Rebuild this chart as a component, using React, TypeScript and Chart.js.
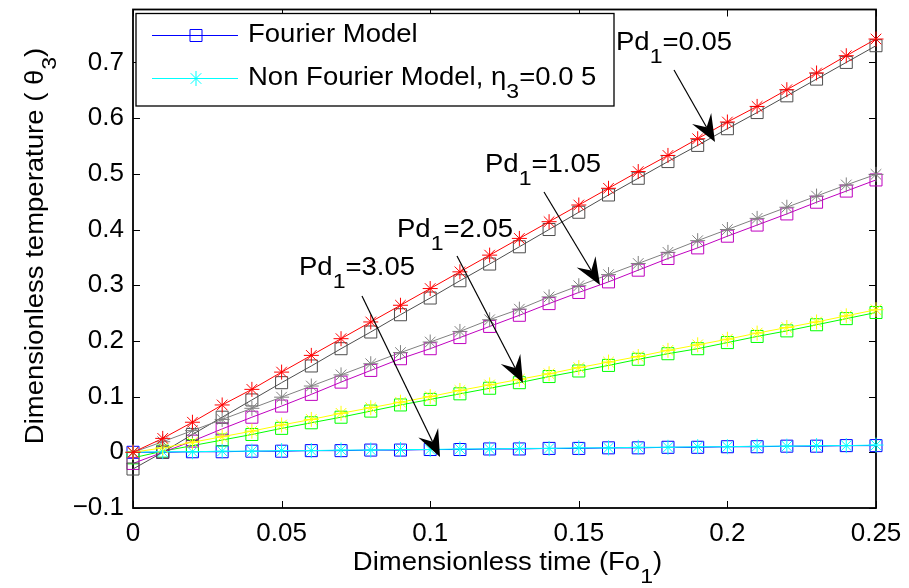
import React, { useEffect, useRef } from "react";
import { Chart, registerables } from "chart.js";

Chart.register(...registerables);

// ---- data ----
const FO = [0, 0.01, 0.02, 0.03, 0.04, 0.05, 0.06, 0.07, 0.08, 0.09, 0.1, 0.11, 0.12, 0.13, 0.14, 0.15, 0.16, 0.17, 0.18, 0.19, 0.2, 0.21, 0.22, 0.23, 0.24, 0.25];

// Pd1 = 0.05
const F_PD005 = [-0.03, 0.0, 0.032, 0.063, 0.094, 0.125, 0.155, 0.186, 0.216, 0.247, 0.277, 0.308, 0.338, 0.369, 0.4, 0.431, 0.462, 0.492, 0.522, 0.551, 0.581, 0.61, 0.64, 0.67, 0.7, 0.73];
const NF_PD005 = [0.0, 0.025, 0.054, 0.085, 0.113, 0.144, 0.174, 0.204, 0.234, 0.264, 0.294, 0.324, 0.354, 0.384, 0.414, 0.444, 0.474, 0.504, 0.533, 0.563, 0.593, 0.621, 0.651, 0.681, 0.712, 0.742];
// Pd1 = 1.05
const F_PD105 = [-0.02, 0.0, 0.02, 0.042, 0.063, 0.083, 0.104, 0.126, 0.147, 0.168, 0.186, 0.206, 0.226, 0.246, 0.267, 0.287, 0.306, 0.327, 0.348, 0.367, 0.388, 0.408, 0.428, 0.449, 0.469, 0.489];
const NF_PD105 = [0.0, 0.019, 0.039, 0.059, 0.079, 0.099, 0.119, 0.139, 0.159, 0.179, 0.198, 0.217, 0.238, 0.257, 0.279, 0.299, 0.319, 0.339, 0.359, 0.38, 0.4, 0.42, 0.44, 0.46, 0.48, 0.499];
// Pd1 = 2.05
const F_PD205 = [-0.01, 0.002, 0.012, 0.022, 0.032, 0.043, 0.053, 0.063, 0.074, 0.085, 0.095, 0.105, 0.115, 0.125, 0.136, 0.146, 0.156, 0.167, 0.177, 0.186, 0.197, 0.208, 0.218, 0.229, 0.24, 0.251];
const NF_PD205 = [0.0, 0.008, 0.018, 0.028, 0.038, 0.049, 0.059, 0.07, 0.08, 0.09, 0.1, 0.111, 0.121, 0.131, 0.141, 0.152, 0.162, 0.172, 0.183, 0.193, 0.203, 0.214, 0.224, 0.234, 0.245, 0.256];
// Pd1 = 3.05
const F_PD305 = [0.0, 0.0, 0.001, 0.001, 0.002, 0.002, 0.003, 0.003, 0.004, 0.004, 0.005, 0.005, 0.006, 0.006, 0.007, 0.007, 0.008, 0.008, 0.009, 0.009, 0.01, 0.01, 0.011, 0.011, 0.012, 0.012];
const NF_PD305 = [0.0, 0.001, 0.001, 0.002, 0.002, 0.003, 0.003, 0.004, 0.004, 0.005, 0.005, 0.006, 0.006, 0.007, 0.007, 0.008, 0.008, 0.009, 0.009, 0.01, 0.01, 0.011, 0.011, 0.012, 0.012, 0.013];

const SERIES = [
  { name: "Fourier Pd1=0.05", values: F_PD005, color: "rgb(77,77,77)", marker: "rect" },
  { name: "Non Fourier Pd1=0.05", values: NF_PD005, color: "rgb(255,0,0)", marker: "star" },
  { name: "Fourier Pd1=1.05", values: F_PD105, color: "rgb(191,0,191)", marker: "rect" },
  { name: "Non Fourier Pd1=1.05", values: NF_PD105, color: "rgb(128,128,128)", marker: "star" },
  { name: "Fourier Pd1=2.05", values: F_PD205, color: "rgb(0,255,0)", marker: "rect" },
  { name: "Non Fourier Pd1=2.05", values: NF_PD205, color: "rgb(255,255,0)", marker: "star" },
  { name: "Fourier Pd1=3.05", values: F_PD305, color: "rgb(0,0,255)", marker: "rect" },
  { name: "Non Fourier Pd1=3.05", values: NF_PD305, color: "rgb(0,255,255)", marker: "star" },
];

const X_TITLE = [{ t: "Dimensionless time (Fo" }, { t: "1", sub: true }, { t: ")" }];
const Y_TITLE = [{ t: "Dimensionless temperature ( θ" }, { t: "3", sub: true }, { t: ")" }];
const LEGEND_ITEMS = [
  { parts: [{ t: "Fourier Model" }], color: "rgb(0,0,255)", marker: "rect" },
  { parts: [{ t: "Non Fourier Model, η" }, { t: "3", sub: true }, { t: "=0.0 5" }], color: "rgb(0,255,255)", marker: "star" },
];
const ANNOTATIONS = [
  { label: "0.05", text: [616, 43], from: [674, 70], to: [715, 142] },
  { label: "1.05", text: [485, 165], from: [544, 192], to: [600, 285] },
  { label: "2.05", text: [397, 230], from: [457, 256], to: [523, 383] },
  { label: "3.05", text: [299, 268], from: [362, 296], to: [440, 457] },
];

const FONT = "'Liberation Sans', Arial, sans-serif";
const TXT = 25;
const SX = 1.1;

type Part = { t: string; sub?: boolean };

function drawRich(ctx: CanvasRenderingContext2D, parts: Part[], x: number, y: number, align: string, rot = 0) {
  ctx.save();
  ctx.translate(x, y);
  if (rot) ctx.rotate(rot);
  ctx.scale(SX, 1);
  let w = 0;
  const widths: number[] = [];
  parts.forEach((p) => {
    ctx.font = `${p.sub ? Math.round(TXT * 0.82) : TXT}px ${FONT}`;
    const mw = ctx.measureText(p.t).width;
    widths.push(mw);
    w += mw;
  });
  let cx = align === "center" ? -w / 2 : align === "right" ? -w : 0;
  ctx.textBaseline = "middle";
  ctx.textAlign = "left";
  ctx.fillStyle = "#000";
  parts.forEach((p, i) => {
    ctx.font = `${p.sub ? Math.round(TXT * 0.82) : TXT}px ${FONT}`;
    ctx.fillText(p.t, cx, p.sub ? TXT * 0.55 : 0);
    cx += widths[i];
  });
  ctx.restore();
}

function drawMarker(ctx: CanvasRenderingContext2D, kind: string, x: number, y: number, color: string) {
  ctx.save();
  ctx.strokeStyle = color;
  ctx.lineWidth = 1;
  ctx.beginPath();
  if (kind === "rect") {
    const s = 8.5 * Math.SQRT1_2;
    ctx.rect(x - s, y - s, 2 * s, 2 * s);
  } else {
    const r = 7.5;
    for (let k = 0; k < 4; k++) {
      const a = (k * Math.PI) / 4;
      ctx.moveTo(x - r * Math.cos(a), y - r * Math.sin(a));
      ctx.lineTo(x + r * Math.cos(a), y + r * Math.sin(a));
    }
  }
  ctx.stroke();
  ctx.restore();
}

function drawArrow(ctx: CanvasRenderingContext2D, from: number[], to: number[]) {
  const [x1, y1] = from;
  const [x2, y2] = to;
  const ang = Math.atan2(y2 - y1, x2 - x1);
  const L = 27, H = 11, N = 17;
  const ux = Math.cos(ang), uy = Math.sin(ang);
  const px = -uy, py = ux;
  ctx.save();
  ctx.strokeStyle = "#000";
  ctx.fillStyle = "#000";
  ctx.lineWidth = 1.2;
  ctx.beginPath();
  ctx.moveTo(x1, y1);
  ctx.lineTo(x2 - ux * N, y2 - uy * N);
  ctx.stroke();
  ctx.beginPath();
  ctx.moveTo(x2, y2);
  ctx.lineTo(x2 - ux * L + px * H, y2 - uy * L + py * H);
  ctx.lineTo(x2 - ux * N, y2 - uy * N);
  ctx.lineTo(x2 - ux * L - px * H, y2 - uy * L - py * H);
  ctx.closePath();
  ctx.fill();
  ctx.restore();
}

const framePlugin = {
  id: "frame",
  beforeDatasetsDraw(chart: any) {
    const ctx = chart.ctx as CanvasRenderingContext2D;
    const { left, right, top, bottom } = chart.chartArea;
    ctx.save();
    ctx.strokeStyle = "#000";
    ctx.lineWidth = 1.8;
    ctx.strokeRect(left, top, right - left, bottom - top);
    ctx.lineWidth = 1;
    const T = 7;
    ctx.beginPath();
    chart.scales.x.ticks.forEach((tk: any) => {
      const p = Math.round(chart.scales.x.getPixelForValue(tk.value)) + 0.5;
      ctx.moveTo(p, bottom);
      ctx.lineTo(p, bottom - T);
      ctx.moveTo(p, top);
      ctx.lineTo(p, top + T);
    });
    chart.scales.y.ticks.forEach((tk: any) => {
      const p = Math.round(chart.scales.y.getPixelForValue(tk.value)) + 0.5;
      ctx.moveTo(left, p);
      ctx.lineTo(left + T, p);
      ctx.moveTo(right, p);
      ctx.lineTo(right - T, p);
    });
    ctx.stroke();
    ctx.restore();
  },
  afterDraw(chart: any) {
    const ctx = chart.ctx as CanvasRenderingContext2D;
    const { left, right, top, bottom } = chart.chartArea;
    // legend
    ctx.save();
    const lx = left + 3, ly = top + 4, lw = 614 - lx, lh = 106 - ly;
    ctx.fillStyle = "#fff";
    ctx.fillRect(lx, ly, lw, lh);
    ctx.strokeStyle = "#000";
    ctx.lineWidth = 1.3;
    ctx.strokeRect(lx, ly, lw, lh);
    LEGEND_ITEMS.forEach((it, i) => {
      const y = ly + 22 + i * 43;
      ctx.strokeStyle = it.color;
      ctx.lineWidth = 1;
      ctx.beginPath();
      ctx.moveTo(lx + 16, y);
      ctx.lineTo(lx + 102, y);
      ctx.stroke();
      drawMarker(ctx, it.marker, lx + 60, y, it.color);
      drawRich(ctx, it.parts, lx + 112, y, "left");
    });
    ctx.restore();
    // annotations
    ANNOTATIONS.forEach((a) => {
      drawRich(ctx, [{ t: "Pd" }, { t: "1", sub: true }, { t: "=" + a.label }], a.text[0], a.text[1], "left");
      drawArrow(ctx, a.from, a.to);
    });
    // axis titles
    drawRich(ctx, X_TITLE, (left + right) / 2 + 3, 563, "center");
    drawRich(ctx, Y_TITLE, 36, 246, "center", -Math.PI / 2);
  },
};

function fmt(v: number) {
  const s = String(parseFloat(v.toFixed(4)));
  return s.replace("-", "\u2212");
}

export default function App() {
  const ref = useRef<HTMLCanvasElement | null>(null);
  useEffect(() => {
    document.body.style.margin = "0";
    const datasets = SERIES.map((s) => ({
      label: s.name,
      data: FO.map((x, i) => ({ x, y: s.values[i] })),
      borderColor: s.color,
      backgroundColor: "rgba(0,0,0,0)",
      borderWidth: 1,
      pointStyle: s.marker,
      pointRadius: s.marker === "rect" ? 8.5 : 7.5,
      pointBorderColor: s.color,
      pointBackgroundColor: "rgba(0,0,0,0)",
      pointBorderWidth: 1,
      showLine: true,
      fill: false,
      tension: 0,
      clip: false,
      order: s.marker === "star" ? 0 : 1,
    }));
    const chart = new Chart(ref.current as HTMLCanvasElement, {
      type: "scatter",
      data: { datasets } as any,
      options: {
        animation: false,
        responsive: false,
        devicePixelRatio: 1,
        layout: { padding: { top: 7.5, right: 33, left: 0, bottom: 0 } },
        plugins: { legend: { display: false }, tooltip: { enabled: false } },
        scales: {
          x: {
            type: "linear",
            min: 0,
            max: 0.25,
            grid: { display: false, drawTicks: false },
            border: { display: false },
            ticks: {
              stepSize: 0.05,
              padding: 10,
              color: "#000",
              font: { family: FONT, size: 26 },
              maxRotation: 0,
              callback: (v: any) => fmt(Number(v)),
            },
            afterFit: (s: any) => {
              s.height = 80;
              s.paddingLeft = 0;
              s.paddingRight = 0;
            },
          },
          y: {
            type: "linear",
            min: -0.1,
            max: 0.795,
            grid: { display: false, drawTicks: false },
            border: { display: false },
            ticks: {
              stepSize: 0.1,
              includeBounds: false,
              padding: 9,
              color: "#000",
              font: { family: FONT, size: 26 },
              callback: (v: any) => fmt(Number(v)),
            },
            afterFit: (s: any) => {
              s.width = 133;
              s.paddingTop = 0;
              s.paddingBottom = 0;
            },
          },
        },
      },
      plugins: [framePlugin],
    } as any);
    return () => chart.destroy();
  }, []);
  return (
    <div style={{ position: "absolute", left: 0, top: 0, width: 909, height: 588, background: "#fff" }}>
      <canvas ref={ref} width={909} height={588} style={{ display: "block" }} />
    </div>
  );
}
